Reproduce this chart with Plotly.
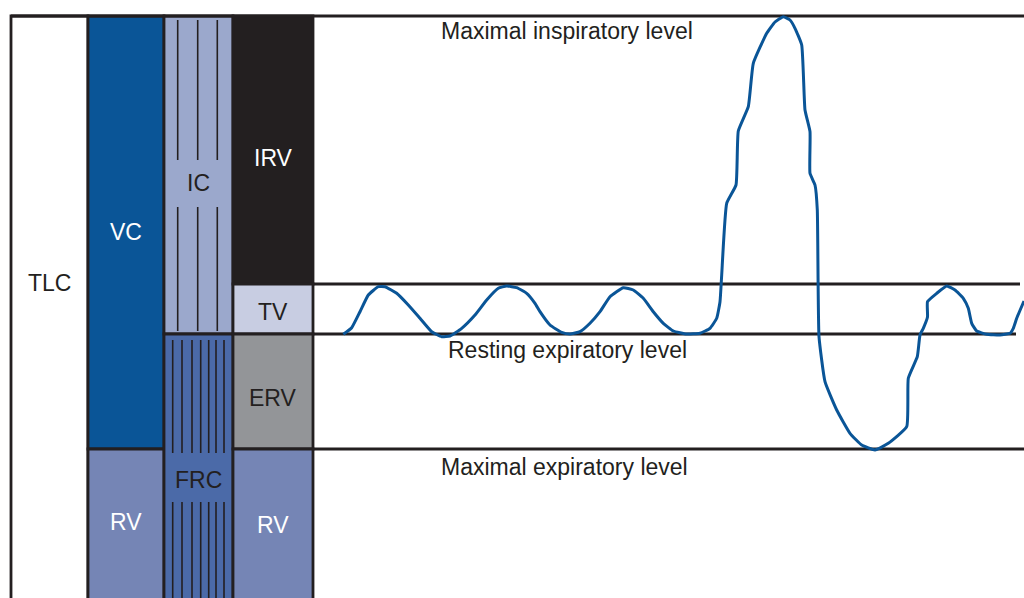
import plotly.graph_objects as go

# ---- Spirogram trace (time position, lung level measured downward from top of figure) ----
trace_t = [343.3, 351.7, 360, 368.3, 378.3, 385, 396.7, 408.3, 420, 431.7, 441.7, 450, 461.7, 475,
           486.7, 498.3, 506.7, 516.7, 526.7, 535, 540, 550, 561.7, 570, 580, 590, 600, 610, 623.3,
           633.3, 643.3, 653.3, 663.3, 673.3, 686.7, 700, 710, 716.7, 720, 721.7, 726.7, 736, 738.3,
           748.3, 753.3, 766.7, 775, 783.3, 790, 795, 801.7, 805, 810, 810, 815, 817.3, 819, 825,
           836.7, 850, 861.7, 875, 888.3, 906.7, 908.3, 917.3, 920, 923.3, 927.5, 927.5, 936.7,
           946.7, 955, 963.3, 968.3, 971.7, 976.7, 986.7, 1000, 1010, 1013.3, 1016.7, 1024]
trace_v = [334.3, 327.7, 311.7, 295, 286.7, 286.7, 293.3, 305, 318.3, 331.7, 336.7, 336, 328.3, 315,
           300, 288.3, 286, 287.7, 293.3, 303.3, 311.7, 325, 332.3, 334, 331.7, 323.3, 311.7, 296.7,
           287.7, 290, 298.3, 311.7, 323.3, 331, 334, 333.3, 328.3, 318.3, 301.7, 275, 203.3, 185,
           131, 106.7, 63.3, 33.3, 22, 16.7, 20, 28.3, 45, 110, 131.7, 173.3, 185, 210, 336.7, 381.7,
           410, 433.3, 445, 450, 443.3, 426.7, 378.3, 356.7, 335, 328.3, 317, 301.7, 293.3, 286,
           290, 298.3, 308.3, 323.3, 331, 334.3, 335, 333.3, 328.3, 318.3, 301]

# ---- Levels (same downward scale) ----
level_names = ["Maximal inspiratory level", "Resting expiratory level", "Maximal expiratory level"]
lvl_max_insp = 16
lvl_tidal_top = 284
lvl_rest_exp = 334
lvl_max_exp = 449
lvl_bottom = 610

# ---- Volume blocks: (label, x0, x1, top, bottom, fill, text colour, label y) ----
blocks = [
    ("TLC", 11, 88, lvl_max_insp, lvl_bottom, "#ffffff", "#231f20", 283),
    ("VC", 88, 164, lvl_max_insp, lvl_max_exp, "#0a5597", "#ffffff", 232),
    ("RV", 88, 164, lvl_max_exp, lvl_bottom, "#7585b5", "#ffffff", 522),
    ("IC", 164, 233, lvl_max_insp, lvl_rest_exp, "#9ba8cc", "#231f20", 183),
    ("FRC", 164, 233, lvl_rest_exp, lvl_bottom, "#4b6aa8", "#231f20", 480),
    ("IRV", 233, 313, lvl_max_insp, lvl_tidal_top, "#231f20", "#ffffff", 158),
    ("TV", 233, 313, lvl_tidal_top, lvl_rest_exp, "#c8cde2", "#231f20", 312),
    ("ERV", 233, 313, lvl_rest_exp, lvl_max_exp, "#939598", "#231f20", 398),
    ("RV", 233, 313, lvl_max_exp, lvl_bottom, "#7585b5", "#ffffff", 525),
]

# hatch lines
ic_hatch_x = [177.7, 197.7, 217.3]
ic_hatch_spans = [(20, 160), (207, 331)]
frc_hatch_x = [172.7, 182, 192, 200.7, 208.7, 216, 224]
frc_hatch_spans = [(340, 453), (502, 610)]

DARK = "#231f20"
BLUE = "#0a5597"
FONT = "Liberation Sans, Arial, Helvetica, sans-serif"

fig = go.Figure()
shapes = []
annotations = []

for name, x0, x1, top, bot, fill, tc, ly in blocks:
    shapes.append(dict(type="rect", xref="x", yref="y", x0=x0, x1=x1, y0=top, y1=bot,
                       fillcolor=fill, line=dict(color=DARK, width=2.8), layer="below"))
    annotations.append(dict(x=(x0 + x1) / 2, y=ly, xref="x", yref="y", text=name, showarrow=False,
                            font=dict(family=FONT, size=23, color=tc),
                            xanchor="center", yanchor="middle"))

for xs, spans in ((ic_hatch_x, ic_hatch_spans), (frc_hatch_x, frc_hatch_spans)):
    for x in xs:
        for a, b in spans:
            shapes.append(dict(type="line", xref="x", yref="y", x0=x, x1=x, y0=a, y1=b,
                               line=dict(color=DARK, width=1.6), layer="below"))

# horizontal level lines
hlines = [(11, 1024, lvl_max_insp), (313, 1020, lvl_tidal_top), (313, 1016, lvl_rest_exp),
          (313, 1024, lvl_max_exp)]
for x0, x1, y in hlines:
    shapes.append(dict(type="line", xref="x", yref="y", x0=x0, x1=x1, y0=y, y1=y,
                       line=dict(color=DARK, width=2.8), layer="below"))

# level text
level_pos = [(567, 31), (567, 350), (564, 466.5)]
for txt, (x, y) in zip(level_names, level_pos):
    annotations.append(dict(x=x, y=y, xref="x", yref="y", text=txt, showarrow=False,
                            font=dict(family=FONT, size=23, color=DARK),
                            xanchor="center", yanchor="middle"))

fig.add_trace(go.Scatter(x=trace_t, y=trace_v, mode="lines",
                         line=dict(color=BLUE, width=3, shape="spline", smoothing=0.4),
                         hoverinfo="skip", showlegend=False))

fig.update_layout(
    width=1024, height=598,
    margin=dict(l=0, r=0, t=0, b=0),
    paper_bgcolor="white", plot_bgcolor="white",
    shapes=shapes, annotations=annotations,
    xaxis=dict(range=[0, 1024], visible=False, fixedrange=True),
    yaxis=dict(range=[598, 0], visible=False, fixedrange=True),
    showlegend=False,
)

fig.write_html("out.html", config={"displayModeBar": False},
               post_script="document.body.style.margin='0px';document.body.style.overflow='hidden';")
